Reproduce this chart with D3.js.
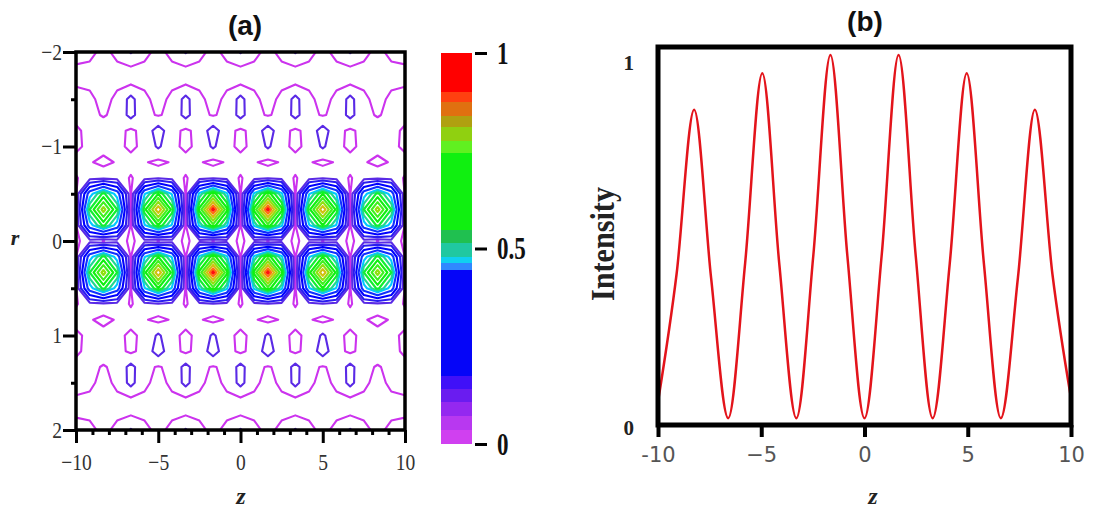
<!DOCTYPE html>
<meta charset="utf-8">
<script src="https://d3js.org/d3.v7.min.js"></script>
<style type="text/css">
body { margin: 0; background: #fff; }
svg { display: block; }
.axis path { display: none; }
.axis line { stroke: #000; stroke-width: 3px; }
.tickA text { font-family: "Liberation Serif", serif; font-size: 23px; fill: #333; }
.barAxis text { font-family: "Liberation Serif", serif; font-size: 32px; font-weight: bold; fill: #111; }
.tickB text { font-family: "DejaVu Sans", sans-serif; font-size: 21px; fill: #555; }
.tickB line { stroke-width: 4px; }
.intAxis text { font-family: "Liberation Serif", serif; font-size: 21px; font-weight: bold; fill: #222; }
.title { font-family: "Liberation Sans", Arial, sans-serif; font-size: 28px; font-weight: bold; fill: #111; text-anchor: middle; }
.varLabel { font-family: "Liberation Serif", serif; font-style: italic; font-weight: bold; fill: #222; text-anchor: middle; }
</style>
<body>
<script>

// ---- panel (a): intensity, rows r = -2 .. 2, columns z = -10 .. 10
var intensityGrid = [
  [0.05, 0.035, 0.005, 0.035, 0.085, 0.035, 0.005, 0.035, 0.085, 0.035, 0.005, 0.035, 0.085, 0.035, 0.005, 0.035, 0.085, 0.035, 0.005, 0.035, 0.085, 0.035, 0.005, 0.035, 0.05],
  [0.012, 0.01, 0.005, 0.01, 0.015, 0.01, 0.005, 0.01, 0.015, 0.01, 0.005, 0.01, 0.015, 0.01, 0.005, 0.01, 0.015, 0.01, 0.005, 0.01, 0.015, 0.01, 0.005, 0.01, 0.012],
  [0.015, 0.012, 0.005, 0.012, 0.015, 0.012, 0.005, 0.012, 0.015, 0.012, 0.005, 0.012, 0.015, 0.012, 0.005, 0.012, 0.015, 0.012, 0.005, 0.012, 0.015, 0.012, 0.005, 0.012, 0.015],
  [0.04, 0.03, 0.005, 0.03, 0.10, 0.03, 0.005, 0.03, 0.10, 0.03, 0.005, 0.03, 0.10, 0.03, 0.005, 0.03, 0.10, 0.03, 0.005, 0.03, 0.10, 0.03, 0.005, 0.03, 0.04],
  [0.04, 0.035, 0.015, 0.035, 0.10, 0.035, 0.015, 0.035, 0.10, 0.035, 0.015, 0.035, 0.10, 0.035, 0.015, 0.035, 0.10, 0.035, 0.015, 0.035, 0.10, 0.035, 0.015, 0.035, 0.04],
  [0.008, 0.04, 0.05, 0.04, 0.008, 0.04, 0.11, 0.04, 0.008, 0.04, 0.11, 0.04, 0.008, 0.04, 0.11, 0.04, 0.008, 0.04, 0.11, 0.04, 0.008, 0.04, 0.05, 0.04, 0.008],
  [0.008, 0.035, 0.04, 0.035, 0.008, 0.035, 0.09, 0.035, 0.008, 0.035, 0.09, 0.035, 0.008, 0.035, 0.09, 0.035, 0.008, 0.035, 0.09, 0.035, 0.008, 0.035, 0.04, 0.035, 0.008],
  [0.04, 0.025, 0.005, 0.025, 0.04, 0.025, 0.005, 0.025, 0.04, 0.025, 0.005, 0.025, 0.04, 0.025, 0.005, 0.025, 0.04, 0.025, 0.005, 0.025, 0.04, 0.025, 0.005, 0.025, 0.04],
  [0.015, 0.05, 0.06, 0.05, 0.015, 0.05, 0.07, 0.05, 0.015, 0.05, 0.07, 0.05, 0.015, 0.05, 0.07, 0.05, 0.015, 0.05, 0.07, 0.05, 0.015, 0.05, 0.06, 0.05, 0.015],
  [0.012, 0.42, 0.60, 0.42, 0.012, 0.45, 0.64, 0.45, 0.012, 0.48, 0.68, 0.48, 0.012, 0.48, 0.68, 0.48, 0.012, 0.45, 0.64, 0.45, 0.012, 0.42, 0.60, 0.42, 0.012],
  [0.01, 0.58, 0.79, 0.58, 0.01, 0.62, 0.87, 0.62, 0.01, 0.66, 0.95, 0.66, 0.01, 0.66, 0.95, 0.66, 0.01, 0.62, 0.87, 0.62, 0.01, 0.58, 0.79, 0.58, 0.01],
  [0.012, 0.42, 0.60, 0.42, 0.012, 0.45, 0.64, 0.45, 0.012, 0.48, 0.68, 0.48, 0.012, 0.48, 0.68, 0.48, 0.012, 0.45, 0.64, 0.45, 0.012, 0.42, 0.60, 0.42, 0.012],
  [0.008, 0.05, 0.018, 0.05, 0.008, 0.05, 0.018, 0.05, 0.008, 0.05, 0.018, 0.05, 0.008, 0.05, 0.018, 0.05, 0.008, 0.05, 0.018, 0.05, 0.008, 0.05, 0.018, 0.05, 0.008],
  [0.012, 0.42, 0.60, 0.42, 0.012, 0.45, 0.64, 0.45, 0.012, 0.48, 0.68, 0.48, 0.012, 0.48, 0.68, 0.48, 0.012, 0.45, 0.64, 0.45, 0.012, 0.42, 0.60, 0.42, 0.012],
  [0.01, 0.58, 0.79, 0.58, 0.01, 0.62, 0.87, 0.62, 0.01, 0.66, 0.95, 0.66, 0.01, 0.66, 0.95, 0.66, 0.01, 0.62, 0.87, 0.62, 0.01, 0.58, 0.79, 0.58, 0.01],
  [0.012, 0.42, 0.60, 0.42, 0.012, 0.45, 0.64, 0.45, 0.012, 0.48, 0.68, 0.48, 0.012, 0.48, 0.68, 0.48, 0.012, 0.45, 0.64, 0.45, 0.012, 0.42, 0.60, 0.42, 0.012],
  [0.015, 0.05, 0.06, 0.05, 0.015, 0.05, 0.07, 0.05, 0.015, 0.05, 0.07, 0.05, 0.015, 0.05, 0.07, 0.05, 0.015, 0.05, 0.07, 0.05, 0.015, 0.05, 0.06, 0.05, 0.015],
  [0.04, 0.025, 0.005, 0.025, 0.04, 0.025, 0.005, 0.025, 0.04, 0.025, 0.005, 0.025, 0.04, 0.025, 0.005, 0.025, 0.04, 0.025, 0.005, 0.025, 0.04, 0.025, 0.005, 0.025, 0.04],
  [0.008, 0.035, 0.04, 0.035, 0.008, 0.035, 0.09, 0.035, 0.008, 0.035, 0.09, 0.035, 0.008, 0.035, 0.09, 0.035, 0.008, 0.035, 0.09, 0.035, 0.008, 0.035, 0.04, 0.035, 0.008],
  [0.008, 0.04, 0.05, 0.04, 0.008, 0.04, 0.11, 0.04, 0.008, 0.04, 0.11, 0.04, 0.008, 0.04, 0.11, 0.04, 0.008, 0.04, 0.11, 0.04, 0.008, 0.04, 0.05, 0.04, 0.008],
  [0.04, 0.035, 0.015, 0.035, 0.10, 0.035, 0.015, 0.035, 0.10, 0.035, 0.015, 0.035, 0.10, 0.035, 0.015, 0.035, 0.10, 0.035, 0.015, 0.035, 0.10, 0.035, 0.015, 0.035, 0.04],
  [0.04, 0.03, 0.005, 0.03, 0.10, 0.03, 0.005, 0.03, 0.10, 0.03, 0.005, 0.03, 0.10, 0.03, 0.005, 0.03, 0.10, 0.03, 0.005, 0.03, 0.10, 0.03, 0.005, 0.03, 0.04],
  [0.015, 0.012, 0.005, 0.012, 0.015, 0.012, 0.005, 0.012, 0.015, 0.012, 0.005, 0.012, 0.015, 0.012, 0.005, 0.012, 0.015, 0.012, 0.005, 0.012, 0.015, 0.012, 0.005, 0.012, 0.015],
  [0.012, 0.01, 0.005, 0.01, 0.015, 0.01, 0.005, 0.01, 0.015, 0.01, 0.005, 0.01, 0.015, 0.01, 0.005, 0.01, 0.015, 0.01, 0.005, 0.01, 0.015, 0.01, 0.005, 0.01, 0.012],
  [0.05, 0.035, 0.005, 0.035, 0.085, 0.035, 0.005, 0.035, 0.085, 0.035, 0.005, 0.035, 0.085, 0.035, 0.005, 0.035, 0.085, 0.035, 0.005, 0.035, 0.085, 0.035, 0.005, 0.035, 0.05]
];

var contourLevels = [0.02, 0.08, 0.16, 0.26, 0.36, 0.46, 0.52, 0.58, 0.64, 0.70, 0.76, 0.82, 0.88, 0.93];
var contourColors = ["#cc33ee", "#5a2ae6", "#2a1cf0", "#0000ff", "#1030ff", "#00c8ff", "#20d890",
                     "#10f030", "#10f010", "#40f020", "#90e010", "#d0c010", "#ff7010", "#ff1010"];

// colour bar bands (lower edge of each band) and their colours
var barStops = [0, 0.035, 0.072, 0.107, 0.14, 0.174, 0.445, 0.463, 0.479, 0.514, 0.547, 0.743, 0.776, 0.81, 0.84, 0.874, 0.90, 1];
var barColors = ["#d040f0", "#b838f0", "#9428f0", "#6a1cf0", "#4010f8", "#0505f8", "#3088ff", "#10d0f0",
                 "#20c8a0", "#20c050", "#10f010", "#60f020", "#90d010", "#b0a010", "#e07010", "#ff4010", "#ff0000"];
var barTicks = [0, 0.5, 1];
var barTickLabels = ["0", "0.5", "1"];

var zTicks = [-10, -5, 0, 5, 10];
var zMinorTicks = [-9, -8, -7, -6, -4, -3, -2, -1, 1, 2, 3, 4, 6, 7, 8, 9];
var rTicks = [-2, -1, 0, 1, 2];
var rMinorTicks = [-1.5, -0.5, 0.5, 1.5];

// ---- panel (b): on-axis intensity, points read at minima, half heights and peaks
var curveZ = [-10, -9.1, -8.25, -7.43, -6.6, -5.78, -4.95, -4.13, -3.3, -2.48, -1.65, -0.83, 0,
              0.83, 1.65, 2.48, 3.3, 4.13, 4.95, 5.78, 6.6, 7.43, 8.25, 9.1, 10];
var curveI = [0.05, 0.40, 0.85, 0.39, 0.005, 0.43, 0.95, 0.43, 0.005, 0.45, 1.0, 0.45, 0.005,
              0.45, 1.0, 0.45, 0.005, 0.43, 0.95, 0.43, 0.005, 0.39, 0.85, 0.40, 0.06];
var zTickLabelsB = ["-10", "\u22125", "0", "5", "10"];
var iTicks = [0, 1];

var svg = d3.select("body").append("svg")
    .attr("width", 1094)
    .attr("height", 512);

// ================= panel (a) =================
var ax = d3.scaleLinear().domain([-10, 10]).range([76, 405]);
var ay = d3.scaleLinear().domain([-2, 2]).range([52, 430]);

var nRows = intensityGrid.length,
    nCols = intensityGrid[0].length;
// d3.contours puts grid value i at coordinate i + 0.5
var gz = d3.scaleLinear().domain([0.5, nCols - 0.5]).range([-10, 10]);
var gr = d3.scaleLinear().domain([0.5, nRows - 0.5]).range([-2, 2]);
var gridPath = d3.geoPath(d3.geoTransform({
  point: function(x, y) { this.stream.point(ax(gz(x)), ay(gr(y))); }
}));

svg.append("clipPath").attr("id", "clipA")
  .append("rect")
    .attr("x", ax(-10)).attr("y", ay(-2))
    .attr("width", ax(10) - ax(-10)).attr("height", ay(2) - ay(-2));

var contours = d3.contours()
    .size([nCols, nRows])
    .thresholds(contourLevels)(intensityGrid.flat());

svg.append("g")
    .attr("clip-path", "url(#clipA)")
  .selectAll("path")
  .data(contours).enter().append("path")
    .attr("d", gridPath)
    .attr("fill", "none")
    .attr("stroke", function(d, i) { return contourColors[i]; })
    .attr("stroke-width", 2.1)
    .attr("stroke-linejoin", "round");

// frame
svg.append("rect")
    .attr("x", ax(-10)).attr("y", ay(-2))
    .attr("width", ax(10) - ax(-10)).attr("height", ay(2) - ay(-2))
    .attr("fill", "none").attr("stroke", "#000").attr("stroke-width", 3.5);

// axes
var intFormat = d3.format("d");

var xAxisA = svg.append("g")
    .attr("class", "axis tickA")
    .attr("transform", "translate(0," + ay(2) + ")")
    .call(d3.axisBottom(ax).tickValues(zTicks).tickSize(13).tickPadding(11).tickFormat(intFormat));
xAxisA.selectAll("text").attr("transform", "scale(0.85,1)");

svg.append("g")
    .attr("class", "axis")
    .attr("transform", "translate(0," + ay(2) + ")")
    .call(d3.axisBottom(ax).tickValues(zMinorTicks).tickSize(5).tickFormat(""));

var yAxisA = svg.append("g")
    .attr("class", "axis tickA")
    .attr("transform", "translate(" + ax(-10) + ",0)")
    .call(d3.axisLeft(ay).tickValues(rTicks).tickSize(13).tickPadding(3.5).tickFormat(intFormat));
yAxisA.selectAll("text").attr("transform", "scale(0.85,1)");

svg.append("g")
    .attr("class", "axis")
    .attr("transform", "translate(" + ax(-10) + ",0)")
    .call(d3.axisLeft(ay).tickValues(rMinorTicks).tickSize(5).tickFormat(""));

svg.append("text").attr("class", "title").attr("x", 245).attr("y", 35).text("(a)");
svg.append("text").attr("class", "varLabel").attr("x", 241).attr("y", 504)
    .style("font-size", "24px").text("z");
svg.append("text").attr("class", "varLabel").attr("x", 15).attr("y", 245)
    .style("font-size", "22px").text("r");

// colour bar
var cb = d3.scaleLinear().domain([0, 1]).range([444, 53]);
svg.append("g").selectAll("rect")
  .data(barColors).enter().append("rect")
    .attr("x", 441)
    .attr("width", 31)
    .attr("y", function(d, i) { return cb(barStops[i + 1]); })
    .attr("height", function(d, i) { return cb(barStops[i]) - cb(barStops[i + 1]); })
    .attr("fill", function(d) { return d; })
    .attr("shape-rendering", "crispEdges");

var barAxis = svg.append("g")
    .attr("class", "axis barAxis")
    .attr("transform", "translate(475,0)")
    .call(d3.axisRight(cb).tickValues(barTicks).tickSize(12).tickPadding(18.5)
      .tickFormat(function(d, i) { return barTickLabels[i]; }));
barAxis.selectAll("text").attr("transform", "scale(0.72,1)");

// ================= panel (b) =================
var bx = d3.scaleLinear().domain([-10, 10]).range([658, 1071]);
var by = d3.scaleLinear().domain([0, 1]).range([420, 55]);

var line = d3.line()
    .x(function(d, i) { return bx(curveZ[i]); })
    .y(function(d) { return by(d); })
    .curve(d3.curveMonotoneX);

svg.append("path")
    .datum(curveI)
    .attr("d", line)
    .attr("fill", "none")
    .attr("stroke", "#e3141b")
    .attr("stroke-width", 2.5);

svg.append("rect")
    .attr("x", 658).attr("y", 47)
    .attr("width", 1071 - 658).attr("height", 425 - 47)
    .attr("fill", "none").attr("stroke", "#000").attr("stroke-width", 5);

svg.append("g")
    .attr("class", "axis tickB")
    .attr("transform", "translate(0,425)")
    .call(d3.axisBottom(bx).tickValues(zTicks).tickSize(12).tickPadding(10)
      .tickFormat(function(d, i) { return zTickLabelsB[i]; }));

svg.append("g")
    .attr("class", "axis intAxis")
    .attr("transform", "translate(658,0)")
    .call(d3.axisLeft(by).tickValues(iTicks).tickSize(0).tickPadding(24).tickFormat(intFormat))
  .selectAll("text")
    .attr("dy", "0.7em");

svg.append("text").attr("class", "title").attr("x", 865).attr("y", 31).text("(b)");
svg.append("text").attr("class", "varLabel").attr("x", 873).attr("y", 504)
    .style("font-size", "24px").text("z");
svg.append("text")
    .attr("transform", "translate(614,244) rotate(-90)")
    .attr("text-anchor", "middle")
    .attr("textLength", 114)
    .attr("lengthAdjust", "spacingAndGlyphs")
    .style("font-family", "'Liberation Serif', serif")
    .style("font-size", "34px")
    .style("font-weight", "bold")
    .style("fill", "#222")
    .text("Intensity");

</script>
</body>
